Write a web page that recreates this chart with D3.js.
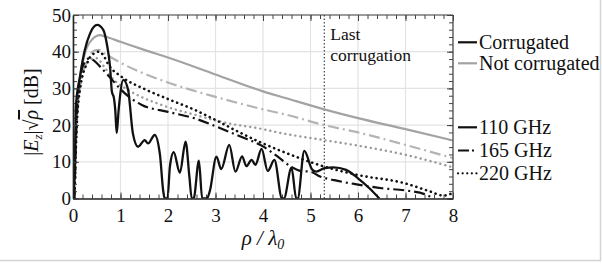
<!DOCTYPE html>
<html>
<head>
<meta charset="utf-8">
<script src="https://cdn.jsdelivr.net/npm/d3@7"></script>
<style>
  body { margin: 0; background: #fff; }
  text { font-family: "Liberation Serif", "DejaVu Serif", serif; fill: #111; }
</style>
</head>
<body>
<svg id="chart" width="602" height="264"></svg>
<script>
// values: [rho/lambda0, dB]
var corr110 = [[0,0],[0.04,10],[0.06,25],[0.15,33.5],[0.25,40.5],[0.36,45],[0.51,47.3],[0.64,45.9],[0.71,42.3],[0.78,35.9],
  [0.82,29],[0.86,27.5],[0.89,24],[0.92,17.8],[0.96,24],[1.06,32.3],[1.16,29.6],[1.26,17.8],[1.37,14.1],[1.51,15.9],[1.58,15],
  [1.72,17.3],[1.83,12],[1.9,2],[1.93,0],[1.99,0],[2.04,8.7],[2.12,12.6],[2.25,7],[2.37,15.5],[2.45,6],[2.5,0],[2.54,0],
  [2.65,10.3],[2.72,0],[2.82,0],[2.88,2],[3.02,11.4],[3.12,8],[3.29,14.6],[3.42,7.3],[3.56,11.5],[3.65,8.8],[3.76,10.5],
  [3.84,9.2],[3.97,13.5],[4.1,7.5],[4.24,10.5],[4.4,0],[4.44,0],[4.6,8.4],[4.7,0],[4.73,0],[4.87,13],[5.03,8],[5.12,7.3],
  [5.3,8.3],[5.48,8.5],[5.75,7.8],[6.0,5.5],[6.24,2.8],[6.45,0]];
var corr165 = [[0.03,0],[0.07,20],[0.15,33],[0.25,37.2],[0.35,38.2],[0.45,37.5],[0.6,35.5],[0.78,33],[1,29.8],[1.2,27.5],
  [1.45,25.5],[2,23.6],[2.57,21.8],[3,19.7],[3.5,17],[4,14.2],[4.35,11],[4.6,8.6],[4.8,7.5],[5.0,7.3],[5.2,6],[5.5,5],[6,3.8],
  [6.5,2.8],[7,2.2],[7.4,1.2],[7.6,0]];
var corr220 = [[0.03,0],[0.08,20],[0.15,30],[0.3,37],[0.45,39.6],[0.55,40],[0.65,38.8],[0.74,36.6],[1.02,33.2],[1.51,29.8],
  [2,27.1],[2.57,24.1],[3,21.4],[3.54,17.8],[4,15],[4.47,12.5],[5.29,8.7],[6,6.4],[7,4.1],[7.5,2],[7.8,0.8],[8,1.5]];
var flat110 = [[0.03,0],[0.07,20],[0.15,33],[0.25,39.5],[0.4,43.3],[0.57,44.5],[0.66,44.2],[1,42.7],[1.5,40.5],[2,38.4],
  [3,33.8],[4,29.2],[4.47,27.4],[5.29,24.3],[6,21.9],[7,18.9],[8,15.8]];
var flat165 = [[0.03,0],[0.08,20],[0.15,30],[0.3,37.5],[0.45,40.3],[0.55,40.5],[0.68,39.4],[1,37],[1.5,34],[2,31.6],
  [3,27.7],[4,24.3],[4.47,22.9],[5.29,20],[6,18],[7,14.6],[8,11]];
var flat220 = [[0.03,0],[0.08,20],[0.15,30],[0.25,35.5],[0.4,38],[0.5,38.2],[0.65,36],[0.85,32.5],[1.16,29.6],[1.86,25.5],
  [2.57,22.8],[3.26,20.5],[3.96,19],[4.35,17.9],[5.29,15.9],[6,14.4],[7,11.9],[8,8.5]];
var lastCorrugation = 5.29;
var xTicks = [0,1,2,3,4,5,6,7,8];
var yTicks = [0,10,20,30,40,50];

var svg = d3.select("#chart");
var x = d3.scaleLinear().domain([0, 8]).range([73, 453]);
var y = d3.scaleLinear().domain([0, 50]).range([198.5, 15]);

// page shadow line (right and bottom)
svg.append("path").attr("d", "M0,260.5H600.5V0").attr("fill", "none").attr("stroke", "#d4d4d4").attr("stroke-width", 1.5);

// grid
svg.append("g").selectAll("line").data(xTicks).enter().append("line")
  .attr("x1", function(d){ return x(d); }).attr("x2", function(d){ return x(d); })
  .attr("y1", y(0)).attr("y2", y(50)).attr("stroke", "#e3e3e3").attr("stroke-width", 1.2);
svg.append("g").selectAll("line").data(yTicks).enter().append("line")
  .attr("y1", function(d){ return y(d); }).attr("y2", function(d){ return y(d); })
  .attr("x1", x(0)).attr("x2", x(8)).attr("stroke", "#e3e3e3").attr("stroke-width", 1.2);

// minor ticks on all four sides
var minorX = d3.range(0, 8.001, 0.2), minorY = d3.range(0, 50.001, 2);
function tickAxis(axis, vals, size, pos) {
  var g = svg.append("g").attr("transform", pos)
    .call(axis.tickValues(vals).tickSizeInner(size).tickSizeOuter(0).tickFormat(""));
  g.select(".domain").remove();
  g.selectAll("line").attr("stroke", "#444");
}
tickAxis(d3.axisBottom(x), minorX, -4, "translate(0," + y(0) + ")");
tickAxis(d3.axisTop(x), minorX, -4, "translate(0," + y(50) + ")");
tickAxis(d3.axisLeft(y), minorY, -4, "translate(" + x(0) + ",0)");
tickAxis(d3.axisRight(y), minorY, -4, "translate(" + x(8) + ",0)");
tickAxis(d3.axisTop(x), xTicks, -6, "translate(0," + y(50) + ")");
tickAxis(d3.axisRight(y), yTicks, -6, "translate(" + x(8) + ",0)");

// last corrugation marker
svg.append("line").attr("x1", x(lastCorrugation)).attr("x2", x(lastCorrugation))
  .attr("y1", y(0)).attr("y2", y(50)).attr("stroke", "#333").attr("stroke-width", 1.1)
  .attr("stroke-dasharray", "1.5,2");
svg.append("text").attr("x", x(lastCorrugation) + 6).attr("y", 40).style("font-size", "17.5px").text("Last");
svg.append("text").attr("x", x(lastCorrugation) + 6).attr("y", 61).style("font-size", "17.5px").text("corrugation");

// curves
svg.append("clipPath").attr("id", "plot").append("rect")
  .attr("x", x(0)).attr("y", y(50)).attr("width", x(8) - x(0)).attr("height", y(0) - y(50));
var line = d3.line().x(function(d){ return x(d[0]); }).y(function(d){ return y(d[1]); }).curve(d3.curveMonotoneX);
var dashDot = "11,4,2,4", dotted = "0.1,5";
var series = [
  { data: flat110, color: "#a3a3a3", dash: null, w: 2.2 },
  { data: flat165, color: "#b4b4b4", dash: dashDot, w: 2.2 },
  { data: flat220, color: "#9a9a9a", dash: dotted, w: 2.4 },
  { data: corr220, color: "#111", dash: dotted, w: 2.6 },
  { data: corr165, color: "#111", dash: dashDot, w: 2.2 },
  { data: corr110, color: "#111", dash: null, w: 2.3 }
];
var plot = svg.append("g").attr("clip-path", "url(#plot)");
plot.selectAll("path").data(series).enter().append("path")
  .attr("d", function(d){ return line(d.data); })
  .attr("fill", "none")
  .attr("stroke", function(d){ return d.color; })
  .attr("stroke-width", function(d){ return d.w; })
  .attr("stroke-dasharray", function(d){ return d.dash; })
  .attr("stroke-linecap", function(d){ return d.dash === dotted ? "round" : "butt"; })
  .attr("stroke-linejoin", "round");

// frame + labelled axes
var xAxis = svg.append("g").attr("transform", "translate(0," + y(0) + ")")
  .call(d3.axisBottom(x).tickValues(xTicks).tickSizeInner(-6).tickSizeOuter(0).tickPadding(10));
var yAxis = svg.append("g").attr("transform", "translate(" + x(0) + ",0)")
  .call(d3.axisLeft(y).tickValues(yTicks).tickSizeInner(-6).tickSizeOuter(0).tickPadding(2));
[xAxis, yAxis].forEach(function(g){
  g.attr("font-family", "Liberation Serif").attr("font-size", 19);
  g.selectAll("text").style("font-size", "19px").style("font-family", "'Liberation Serif'").attr("fill", "#111");
  g.selectAll("line").attr("stroke", "#444");
  g.select(".domain").attr("stroke", "#222").attr("stroke-width", 1.6);
});
svg.append("line").attr("x1", x(0)).attr("x2", x(8)).attr("y1", y(50)).attr("y2", y(50)).attr("stroke", "#444").attr("stroke-width", 1.2);
svg.append("line").attr("x1", x(8)).attr("x2", x(8)).attr("y1", y(50)).attr("y2", y(0)).attr("stroke", "#444").attr("stroke-width", 1.2);

// axis titles
var yl = svg.append("text").attr("transform", "translate(38,112) rotate(-90)")
  .attr("text-anchor", "middle").style("font-size", "20px");
yl.append("tspan").text("|");
yl.append("tspan").style("font-style", "italic").text("E");
yl.append("tspan").style("font-size", "13px").attr("dy", 4).style("font-style", "italic").text("z");
yl.append("tspan").attr("dy", -4).text("|√");
yl.append("tspan").style("font-style", "italic").style("text-decoration", "overline").text("ρ");
yl.append("tspan").text(" [dB]");

var xl = svg.append("text").attr("x", 263).attr("y", 245).attr("text-anchor", "middle").style("font-size", "21px");
xl.append("tspan").style("font-style", "italic").text("ρ / λ");
xl.append("tspan").style("font-style", "italic").style("font-size", "14px").attr("dy", 4).text("0");

// legend
var legendItems = [
  { label: "Corrugated", color: "#111", dash: null, y: 42.3 },
  { label: "Not corrugated", color: "#a3a3a3", dash: null, y: 63.3 },
  { label: "110 GHz", color: "#111", dash: null, y: 127.3 },
  { label: "165 GHz", color: "#111", dash: "11,3,2,3", y: 150.5 },
  { label: "220 GHz", color: "#111", dash: "0.1,4.5", y: 173.3 }
];
var lg = svg.append("g").selectAll("g").data(legendItems).enter().append("g");
lg.append("line").attr("x1", 458).attr("x2", 477)
  .attr("y1", function(d){ return d.y; }).attr("y2", function(d){ return d.y; })
  .attr("stroke", function(d){ return d.color; }).attr("stroke-width", 2.2)
  .attr("stroke-dasharray", function(d){ return d.dash; })
  .attr("stroke-linecap", function(d){ return d.label === "220 GHz" ? "round" : "butt"; });
lg.append("text").attr("x", 479).attr("y", function(d){ return d.y + 6.5; })
  .style("font-size", "20px").text(function(d){ return d.label; });
</script>
</body>
</html>
